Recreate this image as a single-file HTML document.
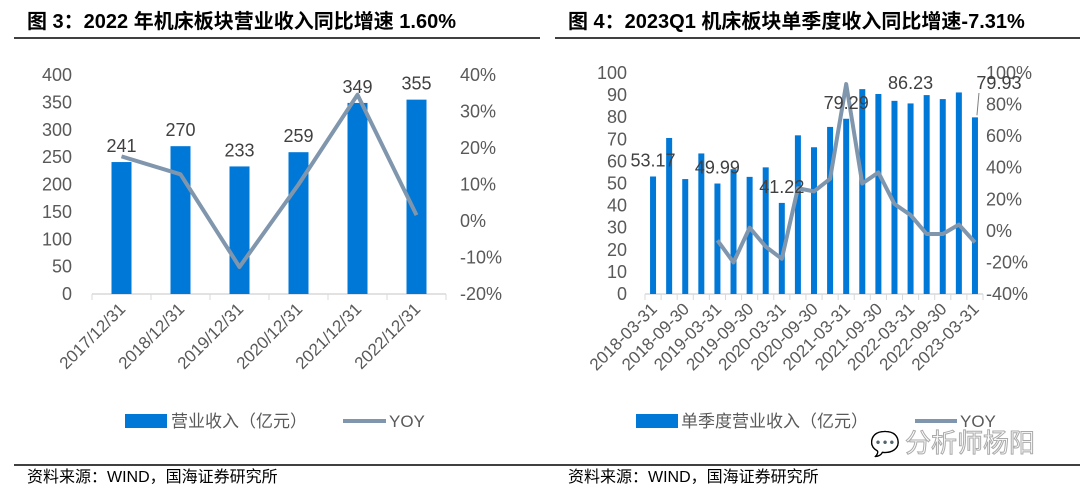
<!DOCTYPE html>
<html><head><meta charset="utf-8"><style>
body{margin:0;background:#fff;width:1080px;height:494px;overflow:hidden}
svg{display:block;font-family:"Liberation Sans","Noto Sans CJK SC",sans-serif}
</style></head><body>
<svg id="s" width="1080" height="494" viewBox="0 0 1080 494">
<text x="27" y="28" font-size="20" font-weight="bold" fill="#000">图 3：2022 年机床板块营业收入同比增速 1.60%</text>
<line x1="14" y1="38" x2="540" y2="38" stroke="#000" stroke-width="1.5"/>
<text x="568" y="28" font-size="20" font-weight="bold" fill="#000">图 4：2023Q1 机床板块单季度收入同比增速-7.31%</text>
<line x1="555" y1="38" x2="1080" y2="38" stroke="#000" stroke-width="1.5"/>
<g id="left"></g>
<g id="right"></g>
<rect x="125" y="414" width="42" height="14" fill="#0078d7"/>
<text x="171" y="427" font-size="17" fill="#595959">营业收入（亿元）</text>
<line x1="343" y1="421" x2="386" y2="421" stroke="#8096ad" stroke-width="4"/>
<text x="389" y="427" font-size="17" fill="#595959">YOY</text>
<rect x="636" y="414" width="42" height="14" fill="#0078d7"/>
<text x="681" y="427" font-size="17" fill="#595959">单季度营业收入（亿元）</text>
<line x1="915" y1="421" x2="957" y2="421" stroke="#8096ad" stroke-width="4"/>
<text x="960" y="427" font-size="17" fill="#595959">YOY</text>
<text x="905" y="452" font-size="26" fill="#fff" stroke="#aaa" stroke-width="1">分析师杨阳</text>
<text x="870" y="452" font-size="24" fill="#fff" stroke="#aaa" stroke-width="1">💬</text>
<line x1="14" y1="465" x2="540" y2="465" stroke="#000" stroke-width="1.5"/>
<text x="27" y="482" font-size="16" fill="#000">资料来源：WIND，国海证券研究所</text>
<line x1="540" y1="465" x2="1080" y2="465" stroke="#000" stroke-width="1.5"/>
<text x="568" y="482" font-size="16" fill="#000">资料来源：WIND，国海证券研究所</text>
</svg>
<script>
const leftCats=["2017/12/31","2018/12/31","2019/12/31","2020/12/31","2021/12/31","2022/12/31"];
const leftRevenue=[241,270,233,259,349,355];
const leftYoy=[17.7,12.8,-12.6,10,34.6,1.6];
const leftTicks=[0,50,100,150,200,250,300,350,400];
const leftPctTicks=[-20,-10,0,10,20,30,40];
const rightCats=["2018-03-31","2018-06-30","2018-09-30","2018-12-31","2019-03-31","2019-06-30","2019-09-30","2019-12-31","2020-03-31","2020-06-30","2020-09-30","2020-12-31","2021-03-31","2021-06-30","2021-09-30","2021-12-31","2022-03-31","2022-06-30","2022-09-30","2022-12-31","2023-03-31"];
const rightRevenue=[53.17,70.6,52,63.6,49.99,56.5,53,57.3,41.22,71.8,66.4,75.6,79.29,92.7,90.5,87.4,86.23,90,88.2,91.2,79.93];
const rightYoy=[null,null,null,null,-6,-20,2,-10,-17.7,27,25,33,93,30,37,17,10,-2,-2,4,-7.31];
const rightLabeled=[0,4,8,12,16,20];
const rightTicks=[0,10,20,30,40,50,60,70,80,90,100];
const rightPctTicks=[-40,-20,0,20,40,60,80,100];
const NS="http://www.w3.org/2000/svg";
function mk(p,tag,at,txt){const e=document.createElementNS(NS,tag);for(const k in at)e.setAttribute(k,at[k]);if(txt!==undefined)e.textContent=txt;p.appendChild(e);return e;}
function chart(g,o){
  const n=o.cats.length,step=(o.x1-o.x0)/n;
  const xc=i=>o.x0+step*(i+0.5);
  const y=v=>o.yb-(v-o.min)/(o.max-o.min)*(o.yb-o.yt);
  const y2=v=>o.yb-(v-o.pmin)/(o.pmax-o.pmin)*(o.yb-o.yt);
  o.ticks.forEach(t=>{const e=mk(g,"text",{x:o.x0-o.lgap,y:y(t)+6,"font-size":18,fill:"#595959","text-anchor":"end"},t);
    
    });
  o.pticks.forEach(t=>{const e=mk(g,"text",{x:o.x1+o.rgap,y:y2(t)+6,"font-size":18,fill:"#595959"},t+"%");
    
    });
  const ax=mk(g,"line",{x1:o.x0,y1:o.yb,x2:o.x1,y2:o.yb,stroke:"#d9d9d9","stroke-width":1.5});
  
  
  for(let i=0;i<=n;i++){const t=mk(g,"line",{x1:o.x0+step*i,y1:o.yb,x2:o.x0+step*i,y2:o.yb+6,stroke:"#d9d9d9"});
    
    }
  o.rev.forEach((v,i)=>{const b=mk(g,"rect",{x:xc(i)-o.bw/2,y:y(v),width:o.bw,height:o.yb-y(v),fill:"#0078d7"});
    
    });
  let d="";o.yoy.forEach((v,i)=>{if(v===null)return;d+=(d?"L":"M")+xc(i)+","+y2(v);});
  const l=mk(g,"path",{d:d,fill:"none",stroke:"#8096ad","stroke-width":4,"stroke-linejoin":"round"});
  
  
  o.cats.forEach((c,i)=>{if(i%o.every)return;const x=xc(i)+5,yy=o.yb+16;
    const e=mk(g,"text",{x:x,y:yy,"font-size":17,fill:"#595959","text-anchor":"end",transform:`rotate(-45 ${x} ${yy})`},c);
    
    });
  return {xc,y,y2};
}
const L=chart(document.getElementById("left"),{cats:leftCats,rev:leftRevenue,yoy:leftYoy,ticks:leftTicks,pticks:leftPctTicks,x0:92,x1:446,yt:75,yb:294,min:0,max:400,pmin:-20,pmax:40,bw:20,every:1,lgap:20,rgap:14});
leftRevenue.forEach((v,i)=>{const e=mk(document.getElementById("left"),"text",{x:L.xc(i),y:L.y(v)-10,"font-size":18,fill:"#404040","text-anchor":"middle"},v);
  
  });
const R=chart(document.getElementById("right"),{cats:rightCats,rev:rightRevenue,yoy:rightYoy,ticks:rightTicks,pticks:rightPctTicks,x0:645,x1:983,yt:73,yb:294,min:0,max:100,pmin:-40,pmax:100,bw:6,every:2,lgap:18,rgap:3});
const rg=document.getElementById("right");
rightLabeled.forEach(i=>{const v=rightRevenue[i];let x=R.xc(i),yy=R.y(v)-10;
  if(i===rightLabeled[rightLabeled.length-1]){x=R.xc(i)+24;yy=R.y(100)+16;
    const ll=mk(rg,"line",{x1:R.xc(i)+2,y1:R.y(v)-2,x2:R.xc(i)+4,y2:yy+4,stroke:"#7f7f7f"});
    
    }
  if(i===16)yy=R.y(100)+16;
  const e=mk(rg,"text",{x:x,y:yy,"font-size":18,fill:"#404040","text-anchor":"middle"},v.toFixed(2));
  
  });
</script>
</body></html>
